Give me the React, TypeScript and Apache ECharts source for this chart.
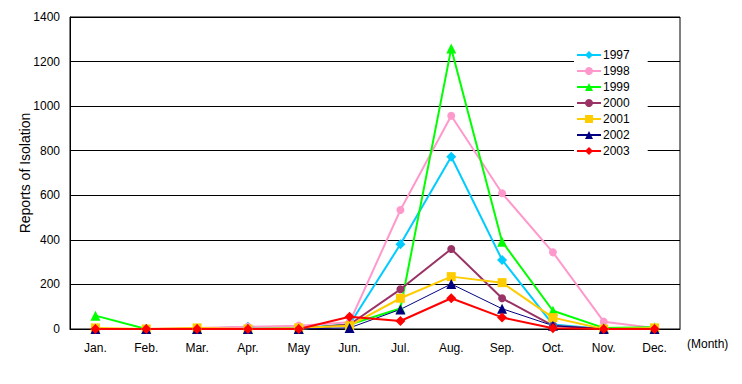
import React, { useEffect, useRef } from "react";
import * as echarts from "echarts";

const months = ["Jan.", "Feb.", "Mar.", "Apr.", "May", "Jun.", "Jul.", "Aug.", "Sep.", "Oct.", "Nov.", "Dec."];
const yTicks = [0, 200, 400, 600, 800, 1000, 1200, 1400];

const y1997 = [0, 0, 0, 10, 5, 20, 380, 773, 310, 20, 0, 0];
const y1998 = [0, 0, 5, 10, 15, 30, 534, 957, 609, 344, 33, 5];
const y1999 = [60, 0, 0, 0, 0, 20, 92, 1259, 392, 82, 5, 8];
const y2000 = [0, 0, 0, 0, 0, 20, 178, 359, 138, 15, 0, 0];
const y2001 = [5, 0, 5, 0, 5, 15, 138, 235, 208, 51, 0, 5];
const y2002 = [0, 0, 0, 0, 0, 5, 88, 202, 91, 15, 0, 0];
const y2003 = [0, 0, 0, 0, 0, 55, 36, 138, 52, 3, 0, 0];

const seriesDefs = [
  { name: "1997", data: y1997, color: "#00CCFF", symbol: "diamond", size: 10, width: 2 },
  { name: "1998", data: y1998, color: "#FF99CC", symbol: "circle", size: 8, width: 2 },
  { name: "1999", data: y1999, color: "#00FF00", symbol: "triangle", size: 10, width: 2 },
  { name: "2000", data: y2000, color: "#993366", symbol: "circle", size: 8, width: 2 },
  { name: "2001", data: y2001, color: "#FFCC00", symbol: "rect", size: 9, width: 2 },
  { name: "2002", data: y2002, color: "#000080", symbol: "triangle", size: 10, width: 1 },
  { name: "2003", data: y2003, color: "#FF0000", symbol: "diamond", size: 10, width: 2 },
];

const FONT = "Liberation Sans, Arial, sans-serif";

export default function App() {
  const ref = useRef<HTMLDivElement>(null);
  useEffect(() => {
    if (!ref.current) return;
    const chart = echarts.init(ref.current, undefined, { renderer: "svg" });
    chart.setOption({
      animation: false,
      backgroundColor: "#ffffff",
      textStyle: { fontFamily: FONT },
      grid: {
        left: 70,
        right: 62,
        top: 17,
        bottom: 55,
        show: true,
        borderColor: "#000",
        borderWidth: 1,
        backgroundColor: "transparent",
      },
      graphic: [
        {
          type: "text",
          left: 687,
          top: 338,
          style: { text: "(Month)", fontSize: 12, fontFamily: FONT, fill: "#000" },
        },
      ],
      legend: {
        orient: "vertical",
        left: 574,
        top: 47,
        padding: [2, 18, 2, 2],
        backgroundColor: "#fff",
        itemWidth: 24,
        itemHeight: 10,
        itemGap: 4,
        textStyle: { fontFamily: FONT, fontSize: 12, color: "#000", padding: [0, 0, 0, -3] },
        data: seriesDefs.map((s) => s.name),
      },
      xAxis: {
        type: "category",
        data: months,
        boundaryGap: true,
        axisLine: { lineStyle: { color: "#000", width: 1 } },
        axisTick: { inside: true, length: 4, lineStyle: { color: "#000" } },
        axisLabel: { color: "#000", fontSize: 12, fontFamily: FONT, margin: 13 },
      },
      yAxis: {
        type: "value",
        min: 0,
        max: 1400,
        interval: 200,
        axisLine: { show: true, lineStyle: { color: "#000", width: 1 } },
        axisTick: { show: false },
        splitLine: { lineStyle: { color: "#000", width: 1 } },
        axisLabel: { color: "#000", fontSize: 12, fontFamily: FONT, margin: 10,
          formatter: (v: number) => (yTicks.includes(v) ? String(v) : "") },
        name: "Reports of Isolation",
        nameLocation: "middle",
        nameGap: 38,
        nameRotate: 90,
        nameMoveOverlap: false,
        nameTextStyle: { color: "#000", fontSize: 14, fontFamily: FONT },
      },
      series: seriesDefs.map((s) => ({
        name: s.name,
        type: "line",
        data: s.data,
        symbol: s.symbol,
        symbolSize: s.size,
        showAllSymbol: true,
        itemStyle: { color: s.color },
        lineStyle: { color: s.color, width: s.width },
        emphasis: { disabled: true },
      })),
    });
    return () => chart.dispose();
  }, []);
  return (
    <div
      ref={ref}
      style={{ position: "fixed", left: 0, top: 0, width: 742, height: 384 }}
    />
  );
}
